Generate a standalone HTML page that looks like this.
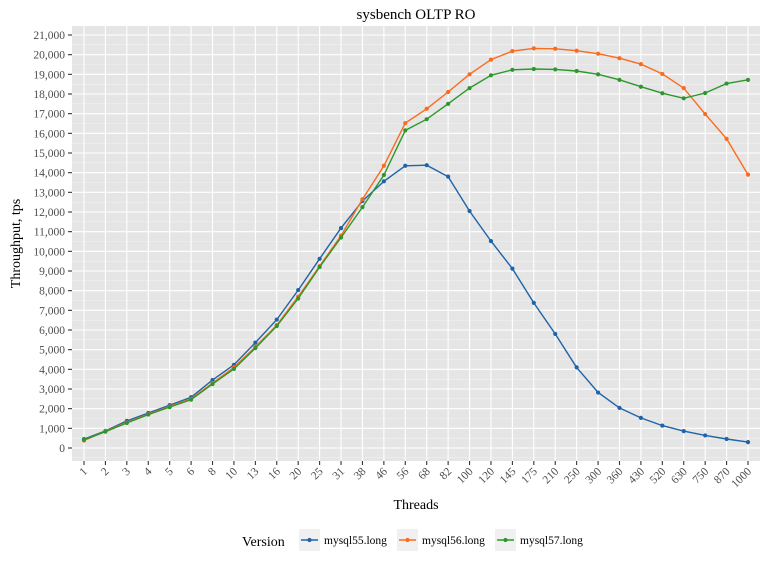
<!DOCTYPE html>
<html><head><meta charset="utf-8"><style>
html,body{margin:0;padding:0;background:#fff;}
svg{display:block;font-family:"Liberation Serif","DejaVu Serif",serif;}
</style></head><body>
<svg id="s" width="768" height="576" xmlns="http://www.w3.org/2000/svg"></svg>
<script>
const s=document.getElementById('s');
const L=72,R=760,T=26,B=461;
const y0=448,k=413/21000;
const cats=[1,2,3,4,5,6,8,10,13,16,20,25,31,38,46,56,68,82,100,120,145,175,210,250,300,360,430,520,630,750,870,1000];
const x0=84,dx=(748-84)/31;
const X=i=>x0+i*dx, Y=v=>y0-v*k;
let h='';
h+=`<rect x="${L}" y="${T}" width="${R-L}" height="${B-T}" fill="#e5e5e5"/>`;
for(let v=500;v<=21500;v+=1000){const y=Y(v);if(y>T&&y<B)h+=`<line x1="${L}" x2="${R}" y1="${y}" y2="${y}" stroke="#f2f2f2" stroke-width="0.6"/>`;}
for(let v=-500;v<0;v+=1000){}
h+=`<line x1="${L}" x2="${R}" y1="${Y(-500)}" y2="${Y(-500)}" stroke="#f2f2f2" stroke-width="0.6"/>`;
for(let v=0;v<=21000;v+=1000){const y=Y(v);h+=`<line x1="${L}" x2="${R}" y1="${y}" y2="${y}" stroke="#fff" stroke-width="1.1"/>`;
h+=`<line x1="${L-4}" x2="${L}" y1="${y}" y2="${y}" stroke="#333" stroke-width="1.1"/>`;
h+=`<text x="${L-7}" y="${y+4}" font-size="11.5" text-anchor="end" fill="#4d4d4d">${v.toLocaleString('en-US')}</text>`;}
cats.forEach((c,i)=>{const x=X(i);h+=`<line x1="${x}" x2="${x}" y1="${T}" y2="${B}" stroke="#fff" stroke-width="1.1"/>`;
h+=`<line x1="${x}" x2="${x}" y1="${B}" y2="${B+4}" stroke="#333" stroke-width="1.1"/>`;
h+=`<text transform="translate(${x+4},${B+11}) rotate(-45)" font-size="11.5" text-anchor="end" fill="#4d4d4d">${c}</text>`;});
const d55=[450,870,1380,1780,2180,2580,3460,4230,5360,6530,8030,9620,11180,12560,13560,14350,14380,13800,12050,10520,9120,7380,5800,4100,2820,2040,1530,1140,860,640,460,300];
const d56=[380,850,1300,1720,2110,2500,3300,4100,5150,6250,7700,9250,10800,12650,14350,16520,17250,18100,19000,19750,20180,20320,20300,20200,20050,19820,19520,19020,18300,16980,15720,13900];
const d57=[420,830,1270,1700,2080,2460,3250,4020,5080,6200,7600,9200,10700,12250,13880,16150,16720,17500,18300,18950,19230,19270,19250,19170,19000,18720,18370,18040,17780,18050,18530,18720];
const ser=[[d55,'#1f63a8'],[d56,'#fc6a1c'],[d57,'#2b982b']];
ser.forEach(([d,c])=>{h+=`<polyline fill="none" stroke="${c}" stroke-width="1.4" points="${d.map((v,i)=>X(i).toFixed(1)+','+Y(v).toFixed(1)).join(' ')}"/>`;
d.forEach((v,i)=>h+=`<circle cx="${X(i)}" cy="${Y(v)}" r="2.1" fill="${c}"/>`);});
h+=`<text x="${(L+R)/2}" y="19" font-size="15" text-anchor="middle" fill="#000">sysbench OLTP RO</text>`;
h+=`<text x="${(L+R)/2}" y="509" font-size="14" text-anchor="middle" fill="#000">Threads</text>`;
h+=`<text transform="translate(20,${(T+B)/2}) rotate(-90)" font-size="14" text-anchor="middle" fill="#000">Throughput, tps</text>`;
h+=`<text x="242" y="546" font-size="14" fill="#000">Version</text>`;
[[299,'mysql55.long','#1f63a8'],[397,'mysql56.long','#fc6a1c'],[495,'mysql57.long','#2b982b']].forEach(([x,t,c])=>{
h+=`<rect x="${x}" y="529" width="21" height="22" fill="#f0f0f0"/><line x1="${x+2}" x2="${x+19}" y1="540" y2="540" stroke="${c}" stroke-width="1.4"/><circle cx="${x+10.5}" cy="540" r="2.1" fill="${c}"/>`;
h+=`<text x="${x+25}" y="544" font-size="11.5" fill="#000">${t}</text>`;});
s.innerHTML=h;
</script>
</body></html>
